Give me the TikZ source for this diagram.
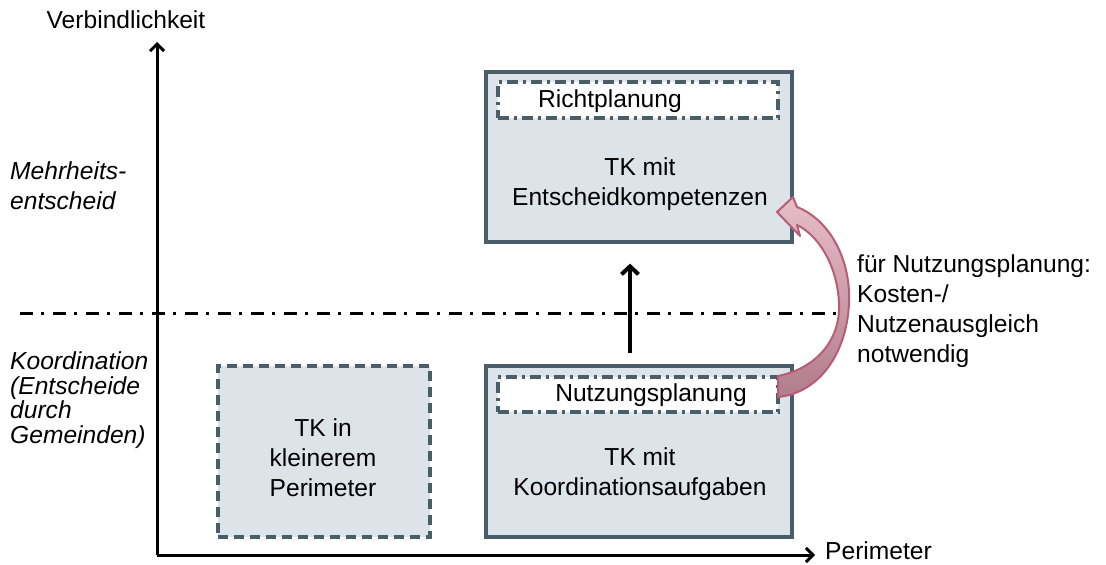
\documentclass[tikz,border=0pt]{standalone}
\usepackage{fontspec}
\setmainfont{Liberation Sans}
\usetikzlibrary{arrows.meta,calc}
\definecolor{boxfill}{RGB}{221,228,233}
\definecolor{boxline}{RGB}{74,94,106}
\definecolor{arrtop}{RGB}{230,190,200}
\definecolor{arrbot}{RGB}{178,124,140}
\definecolor{arrline}{RGB}{184,92,120}
\tikzset{
  txt/.style={font=\fontsize{24.6}{30}\selectfont, inner sep=0pt},
  bigbox/.style={draw=boxline, fill=boxfill, line width=3.2pt, inner sep=0pt},
  dashbox/.style={draw=boxline, fill=boxfill, line width=3.2pt, inner sep=0pt, dash pattern=on 10pt off 6pt},
  innerbox/.style={draw=boxline, fill=white, line width=3.4pt, inner sep=0pt, dash pattern=on 11pt off 5pt on 3pt off 5pt},
  axis/.style={line width=3pt, -{Straight Barb[length=7pt,width=14pt,line width=3pt]}},
  divider/.style={line width=3pt, dash pattern=on 13pt off 8pt on 3pt off 9pt},
  uparrow/.style={line width=4.5pt, -{Straight Barb[length=8pt,width=17pt,line width=4pt]}},
}
\begin{document}
\begin{tikzpicture}[x=1pt,y=-1pt]
\useasboundingbox (0,0) rectangle (1106,565);
% axes
\coordinate (o) at (157,555);
\coordinate (ytop) at (157,42);
\coordinate (xend) at (815,555);
\coordinate (dl) at (20,313);
\coordinate (dr) at (846,313);
\draw[divider] (dl) -- (dr);
\draw[axis] (o) -- (ytop);
\draw[axis] (o) -- (xend);
\node[txt] (ylab) at (126,20) {Verbindlichkeit};
\node[txt, anchor=west] (xlab) at (825,551) {Perimeter};
% left labels
\node[txt, anchor=west, align=left, font=\fontsize{24.6}{30}\selectfont\itshape] (mehr) at (10,186) {Mehrheits-\\entscheid};
\node[txt, anchor=west, align=left, font=\fontsize{24.6}{24.5}\selectfont\itshape] (koord) at (10,400) {Koordination\\(Entscheide\\durch\\Gemeinden)};
% boxes
\node[bigbox, minimum width=306pt, minimum height=170pt] (top) at (639,157) {};
\node[innerbox, minimum width=280pt, minimum height=36pt] (richt) at (638,100) {};
\node[txt] (richtt) at (610,101) {Richtplanung};
\node[txt, align=center] (topt) at (640,184) {TK mit\\Entscheidkompetenzen};

\node[bigbox, minimum width=306pt, minimum height=171pt] (bot) at (639,451.5) {};
\node[innerbox, minimum width=280pt, minimum height=35pt] (nutz) at (638,394.5) {};
\node[txt] (nutzt) at (651,395) {Nutzungsplanung};
\node[txt, align=center] (bott) at (640,474) {TK mit\\Koordinationsaufgaben};

\node[dashbox, minimum width=212pt, minimum height=171pt] (left) at (324,451.5) {};
\node[txt, align=center] (leftt) at (323,458) {TK in\\kleinerem\\Perimeter};
% up arrow
\draw[uparrow, shorten <=11pt, shorten >=20pt] ([xshift=-9pt]bot.north) -- ([xshift=-9pt]top.south);
% curved arrow
\path[draw=arrline, line width=2pt, line join=round, top color=arrtop, bottom color=arrbot]
  (778,376) .. controls (818,368) and (841,338) .. (839,303)
  .. controls (837,262) and (816,234) .. (797,225)
  -- (800,236) -- (777,212) -- (793,197) -- (797,207)
  .. controls (830,220) and (851,260) .. (849,303)
  .. controls (847,352) and (820,393) .. (778,397) -- cycle;
% right text
\node[txt, anchor=west, align=left] (note) at (857,311) {für Nutzungsplanung:\\Kosten-/\\Nutzenausgleich\\notwendig};
\end{tikzpicture}
\end{document}
